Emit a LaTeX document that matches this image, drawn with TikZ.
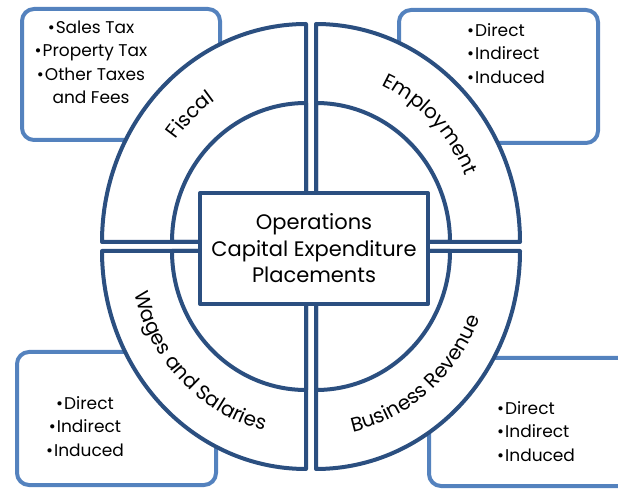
\documentclass[tikz,border=0pt]{standalone}
\usepackage{fontspec}
\setmainfont{Poppins}
\usetikzlibrary{decorations.text}
\definecolor{navy}{RGB}{43,79,128}
\definecolor{sky}{RGB}{84,130,190}
\newcommand\arcfont{\fontsize{20}{24}\selectfont}
\begin{document}
\begin{tikzpicture}[x=1pt,y=1pt,line join=round,
	seg/.style={draw=navy,line width=4pt,fill=white},
	ring/.style={draw=navy,line width=4pt},
	infobox/.style={draw=sky,line width=4pt,rounded corners=12pt,fill=white},
	hub/.style={draw=navy,line width=4pt,fill=white,minimum width=228pt,minimum height=111pt,
		inner sep=0pt,align=center,font=\fontsize{21}{26.5}\selectfont},
	bullets/.style={inner sep=0pt,font=\fontsize{17}{23.5}\selectfont},
	arclabel/.style={decorate,decoration={text along path,text align=center,text={|\arcfont|#1}}}]
	\useasboundingbox (0,0) rectangle (618,490);
	\clip (0,0) rectangle (618,490);
	\path
	(306,248) coordinate (TL)
	(316,248) coordinate (TR)
	(306,239) coordinate (BL)
	(316,239) coordinate (BR)
	;
	% boxes behind the ring
	\draw[infobox] (22,350) rectangle (220,481);
	\draw[infobox] (399,347) rectangle (598,480);
	\draw[infobox] (17,5) rectangle (216,138);
	\draw[infobox] (429,4) rectangle (650,132);
	% four quarters
	\foreach \c/\a in {TL/90,TR/0,BL/180,BR/270}{
		\draw[seg] (\c) -- ++(\a:204 and 218) arc[start angle=\a,delta angle=90,x radius=204,y radius=218] -- cycle;
		\draw[ring] (\c) -- ++(\a:134 and 139) arc[start angle=\a,delta angle=90,x radius=134,y radius=139] -- cycle;
	}
	\node[hub] (ops) at (314,241.5) {Operations\\Capital Expenditure\\Placements};
	% labels on the ring
	\path[arclabel=Fiscal] (TL) ++(178:162 and 171) arc[start angle=178,end angle=88,x radius=162,y radius=171];
	\path[arclabel=Employment] (TR) ++(90:162 and 171) arc[start angle=90,end angle=0,x radius=162,y radius=171];
	\path[arclabel=Wages and Salaries] (BL) ++(180:176 and 185) arc[start angle=180,end angle=270,x radius=176,y radius=185];
	\path[arclabel=Business Revenue] (BR) ++(265:176 and 185) arc[start angle=265,end angle=355,x radius=176,y radius=185];
	% lists
	\node[bullets,align=center,anchor=north] (fiscal) at (91,469.5) {•\kern1pt Sales Tax\\•\kern1pt Property Tax\\•\kern1pt Other Taxes\\and Fees};
	\node[bullets,align=left,anchor=north west] (jobs) at (467,467) {•\kern1pt Direct\\•\kern1pt Indirect\\•\kern1pt Induced};
	\node[bullets,align=center,anchor=north] (wages) at (85,94) {•\kern1pt Direct\\•\kern1pt Indirect\\•\kern1pt Induced};
	\node[bullets,align=left,anchor=north west] (revenue) at (497,89) {•\kern1pt Direct\\•\kern1pt Indirect\\•\kern1pt Induced};
\end{tikzpicture}
\end{document}
